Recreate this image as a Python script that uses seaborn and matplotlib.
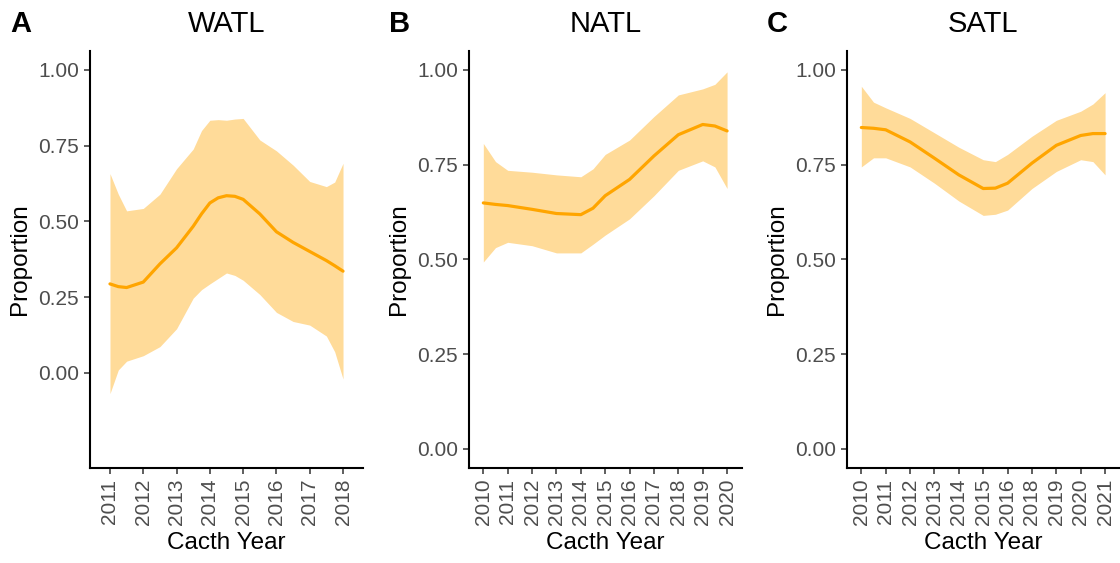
import numpy as np
import pandas as pd
import matplotlib
matplotlib.use("Agg")
import matplotlib.pyplot as plt
import seaborn as sns

# ---------------- data ----------------
panel_letters = ["A", "B", "C"]
panel_titles = ["WATL", "NATL", "SATL"]

watl_years = ["2011", "2012", "2013", "2014", "2015", "2016", "2017", "2018"]
watl_t = [0, 0.25, 0.5, 1, 1.5, 2, 2.5, 2.75, 3, 3.25, 3.5, 3.75, 4, 4.5, 5, 5.5, 6, 6.5, 6.75, 7]
watl_fit = [0.294, 0.285, 0.282, 0.300, 0.360, 0.413, 0.484, 0.525, 0.561, 0.578, 0.585,
            0.583, 0.573, 0.525, 0.466, 0.431, 0.401, 0.371, 0.354, 0.336]
watl_hi = [0.658, 0.590, 0.535, 0.543, 0.590, 0.674, 0.739, 0.800, 0.834, 0.836, 0.834,
           0.838, 0.840, 0.769, 0.733, 0.686, 0.632, 0.615, 0.630, 0.692]
watl_lo = [-0.068, 0.010, 0.039, 0.057, 0.087, 0.146, 0.247, 0.275, 0.294, 0.312, 0.330,
           0.322, 0.306, 0.259, 0.200, 0.170, 0.158, 0.122, 0.070, -0.020]

natl_years = ["2010", "2011", "2012", "2013", "2014", "2015", "2016", "2017", "2018", "2019", "2020"]
natl_t = [0, 0.5, 1, 2, 3, 4, 4.5, 5, 6, 7, 8, 9, 9.5, 10]
natl_fit = [0.649, 0.645, 0.642, 0.632, 0.621, 0.618, 0.635, 0.668, 0.711, 0.773, 0.829, 0.856, 0.852, 0.839]
natl_hi = [0.806, 0.758, 0.735, 0.730, 0.723, 0.718, 0.739, 0.777, 0.815, 0.877, 0.934, 0.950, 0.962, 0.995]
natl_lo = [0.493, 0.531, 0.545, 0.536, 0.517, 0.517, 0.540, 0.564, 0.607, 0.668, 0.735, 0.760, 0.744, 0.687]

satl_years = ["2010", "2011", "2012", "2013", "2014", "2015", "2016", "2018", "2019", "2020", "2021"]
satl_t = [0, 0.5, 1, 2, 3, 4, 5, 5.5, 6, 7, 8, 9, 9.5, 10]
satl_fit = [0.848, 0.846, 0.842, 0.810, 0.767, 0.723, 0.687, 0.688, 0.701, 0.754, 0.801, 0.827, 0.832, 0.832]
satl_hi = [0.957, 0.915, 0.900, 0.872, 0.834, 0.796, 0.763, 0.758, 0.777, 0.825, 0.867, 0.891, 0.910, 0.940]
satl_lo = [0.744, 0.768, 0.768, 0.744, 0.701, 0.654, 0.616, 0.619, 0.630, 0.687, 0.732, 0.763, 0.758, 0.723]

y_ticks = [0.00, 0.25, 0.50, 0.75, 1.00]
y_limits = [(-0.3125, 1.0625), (-0.05, 1.05), (-0.05, 1.05)]

# ---------------- styling ----------------
sns.set_theme(style="ticks")
plt.rcParams["font.family"] = ["Liberation Sans", "DejaVu Sans"]

LINE = "#FFA500"
BAND = "#FFDB99"
TICKTXT = "#4D4D4D"

fig = plt.figure(figsize=(11.2, 5.63), dpi=100)

W, H = 1120.0, 563.0
lefts_px = [90.0, 468.7, 846.7]
width_px = 273.0
top_px, bottom_px = 51.0, 467.7
letter_x_px = [21.0, 400.0, 777.0]

panels = [
    (watl_years, watl_t, watl_fit, watl_lo, watl_hi),
    (natl_years, natl_t, natl_fit, natl_lo, natl_hi),
    (satl_years, satl_t, satl_fit, satl_lo, satl_hi),
]

for i, (years, t, fit, lo, hi) in enumerate(panels):
    ax = fig.add_axes([lefts_px[i] / W, 1 - bottom_px / H, width_px / W, (bottom_px - top_px) / H])
    df = pd.DataFrame({"t": t, "fit": fit, "lo": lo, "hi": hi})
    ax.fill_between(df["t"], df["lo"], df["hi"], color=BAND, linewidth=0, zorder=1)
    sns.lineplot(data=df, x="t", y="fit", ax=ax, color=LINE, linewidth=2.3, zorder=2)

    n = len(years)
    ax.set_xlim(-0.6, n - 1 + 0.6)
    ax.set_ylim(*y_limits[i])
    ax.set_xticks(range(n))
    ax.set_xticklabels(years, rotation=90)
    ax.set_yticks(y_ticks)
    ax.set_yticklabels([f"{v:.2f}" for v in y_ticks])

    sns.despine(ax=ax)
    for s in ["left", "bottom"]:
        ax.spines[s].set_color("black")
        ax.spines[s].set_linewidth(1.5)
    ax.tick_params(axis="both", colors="#333333", length=4.3, width=1.1,
                   labelsize=15, labelcolor=TICKTXT, pad=3.5)

    ax.set_xlabel("Cacth Year", fontsize=17.5, color="black")
    ax.set_ylabel("Proportion", fontsize=17.5, color="black")
    ax.xaxis.set_label_coords(0.5, -0.155)
    ax.yaxis.set_label_coords(-0.216, 0.5)
    ax.set_title(panel_titles[i], fontsize=21, color="black", pad=13.5)

    fig.text(letter_x_px[i] / W, 1 - 32 / H, panel_letters[i], fontsize=21,
             fontweight="bold", ha="center", va="baseline", color="black")

fig.savefig("out.png", dpi=100, facecolor="white")
